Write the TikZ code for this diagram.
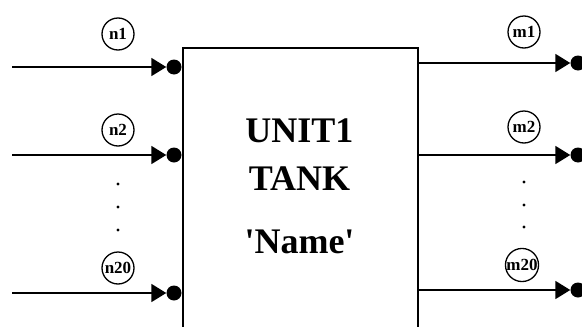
\documentclass[tikz,border=0pt]{standalone}
\usepackage{fontspec}
\setmainfont{Liberation Serif}
\usetikzlibrary{arrows.meta}
\begin{document}
\begin{tikzpicture}[x=1pt, y=-1pt,
  unitbox/.style={draw, line width=1.8pt, minimum width=235pt, minimum height=300pt, inner sep=0pt, anchor=north west},
  port/.style={circle, fill=black, minimum size=15pt, inner sep=0pt},
  flow/.style={line width=1.8pt, -{Triangle[length=15pt, width=18pt]}},
  tag/.style={circle, draw, line width=1.3pt, minimum size=32pt, inner sep=0pt, font=\fontsize{17}{17}\selectfont\bfseries},
  title/.style={font=\fontsize{36}{36}\selectfont\bfseries, anchor=base},
  gap/.style={circle, fill=black, minimum size=3.2pt, inner sep=0pt}]
\useasboundingbox (0,0) rectangle (582,327);
\clip (0,0) rectangle (582,327);

% the tank block
\node[unitbox] (tank) at (182,47) {};
\node[title] (t1) at (299.5,142) {UNIT1};
\node[title] (t2) at (299.5,190) {TANK};
\node[title] (t3) at (299.5,253) {\textquotesingle Name\textquotesingle};

% inlet streams
\node[port] (pn1) at (174,67) {};
\node[port] (pn2) at (174,155) {};
\node[port] (pn20) at (174,293) {};
\coordinate (sn1) at (12,67);
\coordinate (sn2) at (12,155);
\coordinate (sn20) at (12,293);
\draw[flow] (sn1) -- (pn1.west);
\draw[flow] (sn2) -- (pn2.west);
\draw[flow] (sn20) -- (pn20.west);
\node[tag] (ln1) at (118,34) {n1};
\node[tag] (ln2) at (118,130) {n2};
\node[tag] (ln20) at (118,268) {n20};
\node[gap] (gl1) at (118,184) {};
\node[gap] (gl2) at (118,207) {};
\node[gap] (gl3) at (118,230) {};

% outlet streams
\node[port] (pm1) at (578,63) {};
\node[port] (pm2) at (578,155) {};
\node[port] (pm20) at (578,290) {};
\coordinate (sm1) at (417,63);
\coordinate (sm2) at (417,155);
\coordinate (sm20) at (417,290);
\draw[flow] (sm1) -- (pm1.west);
\draw[flow] (sm2) -- (pm2.west);
\draw[flow] (sm20) -- (pm20.west);
\node[tag] (lm1) at (524,32) {m1};
\node[tag] (lm2) at (524,127) {m2};
\node[tag] (lm20) at (522,265) {m20};
\node[gap] (gr1) at (524,182) {};
\node[gap] (gr2) at (524,205) {};
\node[gap] (gr3) at (524,227) {};
\end{tikzpicture}
\end{document}
